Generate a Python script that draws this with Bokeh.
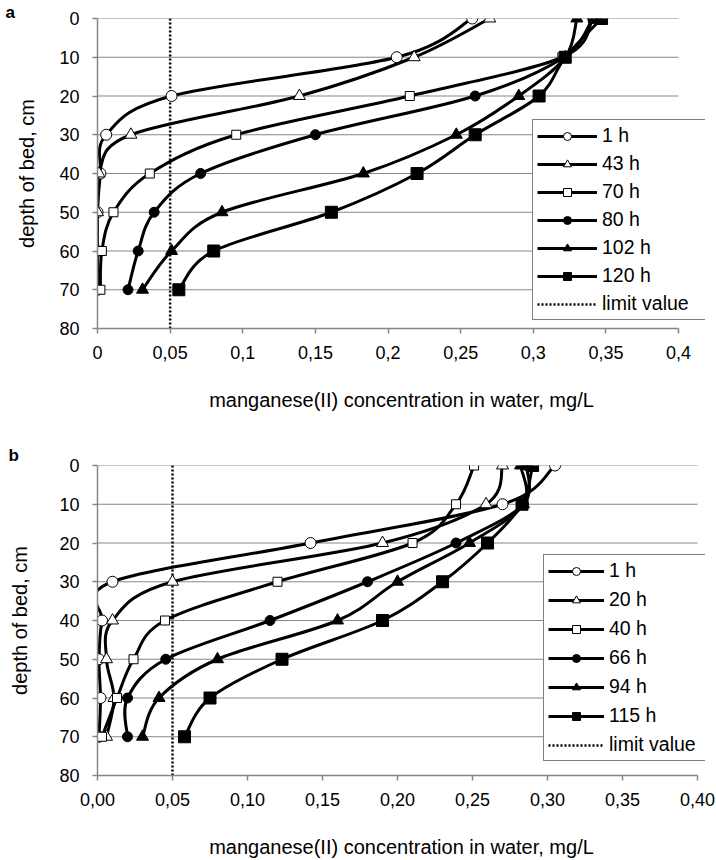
from bokeh.plotting import figure
from bokeh.models import Range1d, FixedTicker, Legend, LegendItem, Title, ColumnDataSource
from bokeh.layouts import column
from bokeh.embed import file_html
from bokeh.resources import INLINE

# ---------------- data ----------------
depth = [0, 10, 20, 30, 40, 50, 60, 70]

a_names = ["1 h", "43 h", "70 h", "80 h", "102 h", "120 h"]
a_1h = [0.258, 0.206, 0.051, 0.006, 0.002, 0.000, 0.000, 0.000]
a_43h = [0.270, 0.218, 0.139, 0.023, 0.001, 0.000, 0.000, 0.000]
a_70h = [0.341, 0.320, 0.215, 0.0955, 0.036, 0.011, 0.003, 0.002]
a_80h = [0.341, 0.321, 0.260, 0.150, 0.071, 0.039, 0.028, 0.021]
a_102h = [0.330, 0.322, 0.290, 0.247, 0.183, 0.0857, 0.051, 0.031]
a_120h = [0.347, 0.322, 0.304, 0.260, 0.220, 0.161, 0.080, 0.056]

b_names = ["1 h", "20 h", "40 h", "66 h", "94 h", "115 h"]
b_1h = [0.305, 0.270, 0.142, 0.010, 0.003, 0.001, 0.002, 0.001]
b_20h = [0.270, 0.259, 0.190, 0.050, 0.010, 0.006, 0.011, 0.006]
b_40h = [0.251, 0.239, 0.210, 0.120, 0.045, 0.024, 0.013, 0.003]
b_66h = [0.286, 0.284, 0.239, 0.180, 0.115, 0.0455, 0.020, 0.020]
b_94h = [0.282, 0.284, 0.248, 0.200, 0.160, 0.080, 0.041, 0.030]
b_115h = [0.290, 0.283, 0.260, 0.230, 0.190, 0.123, 0.075, 0.058]

limit_x = [0.05, 0.05]
limit_depth = [0, 80]
limit_name = "limit value"

x_max = 0.4
x_ticks = [0, 0.05, 0.1, 0.15, 0.2, 0.25, 0.3, 0.35, 0.4]
a_tick_labels = ["0", "0,05", "0,1", "0,15", "0,2", "0,25", "0,3", "0,35", "0,4"]
b_tick_labels = ["0,00", "0,05", "0,10", "0,15", "0,20", "0,25", "0,30", "0,35", "0,40"]
y_ticks = [0, 10, 20, 30, 40, 50, 60, 70, 80]

x_title = "manganese(II) concentration in water, mg/L"
y_title = "depth of bed, cm"

# marker styles: (marker, filled, size)
marker_styles = [("circle", False, 11), ("triangle", False, 12), ("square", False, 9),
                 ("circle", True, 10), ("triangle", True, 12), ("square", True, 12)]

FONT = "Liberation Sans"
GRAY = "#878787"


def smooth_source(xs, ys):
    """Catmull-Rom style cubic Bezier segments through the data points."""
    n = len(xs)
    d = dict(x0=[], y0=[], x1=[], y1=[], cx0=[], cy0=[], cx1=[], cy1=[])
    for i in range(n - 1):
        im = i - 1 if i > 0 else i
        ip = i + 2 if i + 2 < n else i + 1
        d["x0"].append(xs[i]); d["y0"].append(ys[i])
        d["x1"].append(xs[i + 1]); d["y1"].append(ys[i + 1])
        d["cx0"].append(xs[i] + (xs[i + 1] - xs[im]) / 6.0)
        d["cy0"].append(ys[i] + (ys[i + 1] - ys[im]) / 6.0)
        d["cx1"].append(xs[i + 1] - (xs[ip] - xs[i]) / 6.0)
        d["cy1"].append(ys[i + 1] - (ys[ip] - ys[i]) / 6.0)
    return ColumnDataSource(d)


def make_panel(series, names, tick_labels, height, left, axis_px, frame_w, top, bottom,
               letter, letter_offset, letter_standoff, legend_loc, legend_gw, legend_lw,
               legend_spacing, ylabel_standoff):
    x_end = x_max * frame_w / axis_px     # frame extends a little past 0.4 so the legend fits
    p = figure(width=716, height=height, x_range=Range1d(0, x_end), y_range=Range1d(80, 0),
               output_backend="svg", toolbar_location=None,
               min_border_left=left, min_border_right=716 - left - frame_w,
               min_border_top=top, min_border_bottom=bottom)
    p.outline_line_color = None
    p.background_fill_color = "white"
    p.xgrid.visible = False
    p.ygrid.visible = False

    # horizontal grid lines, limited to the axis extent 0 .. 0.4
    p.segment(x0=[0] * len(y_ticks), x1=[x_max] * len(y_ticks), y0=y_ticks, y1=y_ticks,
              line_color=GRAY, line_width=1)

    p.xaxis.ticker = FixedTicker(ticks=x_ticks)
    p.xaxis.major_label_overrides = dict(zip(x_ticks, tick_labels))
    p.xaxis.bounds = (0, x_max)
    p.yaxis.ticker = FixedTicker(ticks=y_ticks)
    for ax in (p.xaxis, p.yaxis):
        ax.axis_line_color = GRAY
        ax.axis_line_width = 1.5
        ax.major_tick_line_color = GRAY
        ax.major_tick_line_width = 1.5
        ax.major_tick_out = 5
        ax.major_tick_in = 0
        ax.minor_tick_line_color = None
        ax.major_label_text_font = FONT
        ax.major_label_text_font_size = "18px"
        ax.major_label_text_color = "black"
        ax.axis_label_text_font = FONT
        ax.axis_label_text_font_size = "20px"
        ax.axis_label_text_font_style = "normal"
        ax.axis_label_text_color = "black"
    p.xaxis.axis_label = x_title
    p.yaxis.axis_label = y_title
    p.xaxis.major_label_standoff = 12
    p.yaxis.major_label_standoff = 13
    p.xaxis.axis_label_standoff = 27
    p.yaxis.axis_label_standoff = ylabel_standoff

    items = []
    lim = p.line(limit_x, limit_depth, line_color="black", line_width=2.5, line_dash="2 2")
    for vals, name, (mk, filled, sz) in zip(series, names, marker_styles):
        src = smooth_source(vals, depth)
        br = p.bezier(x0="x0", y0="y0", x1="x1", y1="y1", cx0="cx0", cy0="cy0",
                      cx1="cx1", cy1="cy1", source=src, line_color="black", line_width=3)
        sr = p.scatter(vals, depth, marker=mk, size=sz, line_color="black", line_width=1,
                       fill_color="black" if filled else "white")
        items.append(LegendItem(label=name, renderers=[br, sr]))
    items.append(LegendItem(label=limit_name, renderers=[lim]))

    legend = Legend(items=items, location=legend_loc, glyph_width=legend_gw, glyph_height=20,
                    label_height=20, label_width=legend_lw, spacing=legend_spacing,
                    padding=4, margin=0, label_standoff=5,
                    border_line_color="black", border_line_width=1,
                    background_fill_color="white", background_fill_alpha=1,
                    label_text_font=FONT, label_text_font_size="19.5px",
                    label_text_color="black")
    p.add_layout(legend)

    p.title = Title(text=letter, align="left", offset=letter_offset, standoff=letter_standoff,
                    text_font=FONT, text_font_size="17px", text_font_style="bold",
                    text_color="black")
    return p


pa = make_panel([a_1h, a_43h, a_70h, a_80h, a_102h, a_120h], a_names, a_tick_labels,
                height=420, left=97, axis_px=582, frame_w=609, top=18, bottom=92,
                letter="a", letter_offset=-92, letter_standoff=-6,
                legend_loc=(435, 8), legend_gw=60, legend_lw=100, legend_spacing=5,
                ylabel_standoff=18)
pb = make_panel([b_1h, b_20h, b_40h, b_66h, b_94h, b_115h], b_names, b_tick_labels,
                height=440, left=92, axis_px=605, frame_w=613, top=45, bottom=84,
                letter="b", letter_offset=-89, letter_standoff=2,
                legend_loc=(446, 14), legend_gw=56, legend_lw=97, legend_spacing=6,
                ylabel_standoff=25)

layout = column(pa, pb, spacing=0)
open("out.html", "w").write(file_html(layout, INLINE))
